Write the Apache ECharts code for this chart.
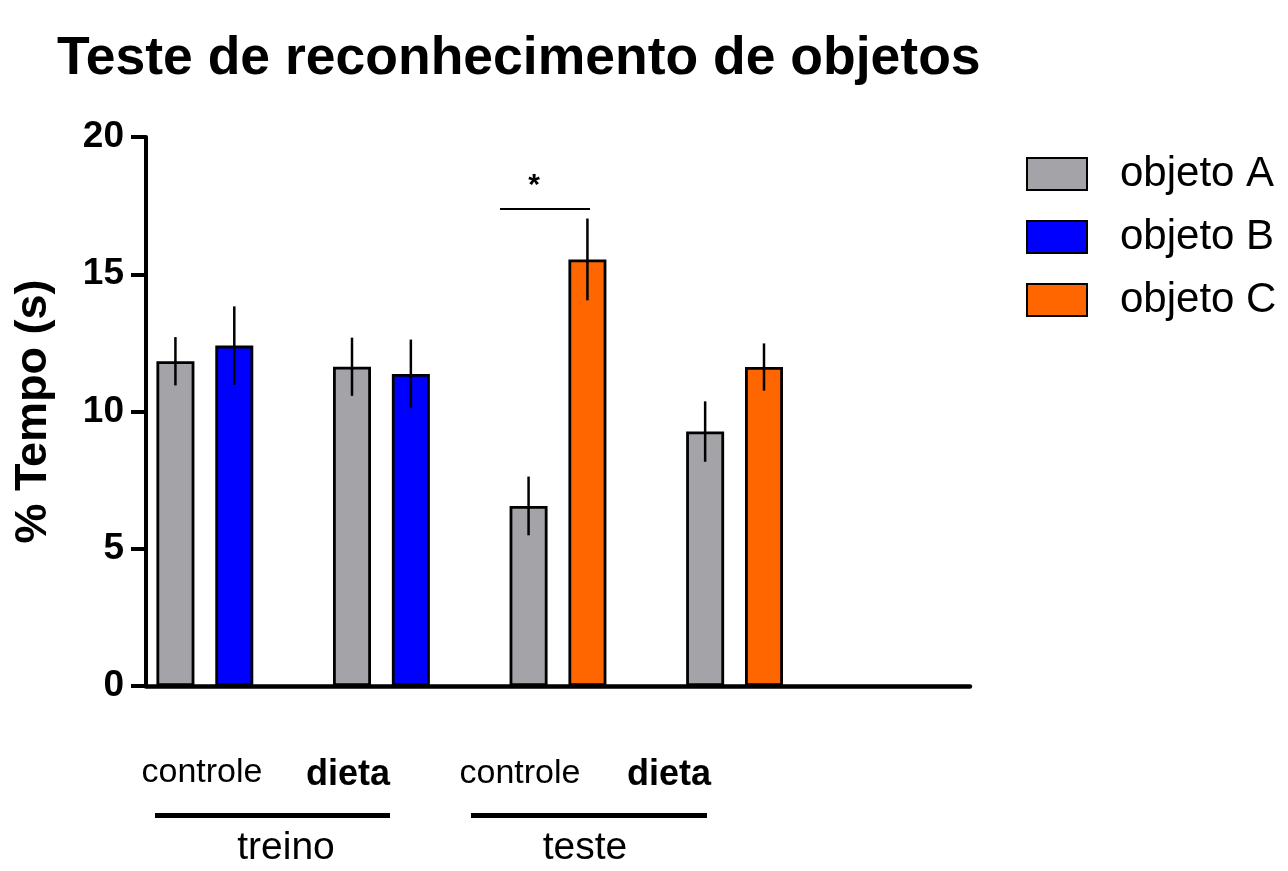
<!DOCTYPE html>
<html>
<head>
<meta charset="utf-8">
<script src="https://cdn.jsdelivr.net/npm/echarts@6/dist/echarts.min.js"></script>
<style>html,body{margin:0;padding:0;background:#fff}#c{width:1288px;height:871px}</style>
</head>
<body>
<div id="c"></div>
<script>
// 14 slots along the x axis; empty slots separate the pairs
var slots = ['', '', '', '', '', '', '', '', '', '', '', '', '', ''];
var seriesNames = ['objeto A', 'objeto B', 'objeto C'];
var valuesA = [11.83, null, null, 11.63, null, null, 6.56, null, null, 9.27, null, null, null, null];
var valuesB = [null, 12.40, null, null, 11.37, null, null, null, null, null, null, null, null, null];
var valuesC = [null, null, null, null, null, null, null, 15.54, null, null, 11.62, null, null, null];
var errA = [0.88, null, null, 1.06, null, null, 1.07, null, null, 1.10, null, null, null, null];
var errB = [null, 1.43, null, null, 1.25, null, null, null, null, null, null, null, null, null];
var errC = [null, null, null, null, null, null, null, 1.49, null, null, 0.86, null, null, null];
var yTicks = [0, 5, 10, 15, 20];

var colors = ['#a3a3a8', '#0000ff', '#ff6600'];
var FONT = 'Liberation Sans, Arial, Helvetica, sans-serif';

function errData(vals, errs) {
  var out = [];
  for (var i = 0; i < vals.length; i++) {
    if (vals[i] != null && errs[i] != null) out.push([i, vals[i] - errs[i], vals[i] + errs[i]]);
  }
  return out;
}
var errAll = errData(valuesA, errA).concat(errData(valuesB, errB), errData(valuesC, errC));

var chart = echarts.init(document.getElementById('c'));
var barStyle = function (c) {
  return { color: c, borderColor: '#000', borderWidth: 2.8 };
};
chart.setOption({
  animation: false,
  backgroundColor: '#fff',
  title: {
    text: 'Teste de reconhecimento de objetos',
    left: 52, top: 27,
    textStyle: { fontFamily: FONT, fontSize: 53.5, fontWeight: 'bold', color: '#000' }
  },
  legend: {
    orient: 'vertical',
    left: 1026, top: 153, padding: 0,
    itemWidth: 60, itemHeight: 32, itemGap: 21,
    icon: 'rect',
    data: seriesNames,
    textStyle: { fontFamily: FONT, fontSize: 42, color: '#000', padding: [0, 0, 0, 28] }
  },
  grid: { left: 146, right: 318, top: 137, bottom: 185, containLabel: false },
  xAxis: {
    type: 'category',
    data: slots,
    axisLine: { lineStyle: { color: '#000', width: 4.5 } },
    axisTick: { show: false },
    axisLabel: { show: false }
  },
  yAxis: {
    type: 'value',
    min: 0, max: 20, interval: 5,
    name: '% Tempo (s)',
    nameLocation: 'middle',
    nameGap: 90,
    nameTextStyle: { fontFamily: FONT, fontSize: 45, fontWeight: 'bold', color: '#000' },
    axisLine: { show: true, lineStyle: { color: '#000', width: 4 } },
    axisTick: { show: true, inside: false, length: 15, lineStyle: { color: '#000', width: 4 } },
    axisLabel: {
      margin: 22, fontFamily: FONT, fontSize: 37, fontWeight: 'bold', color: '#000',
      formatter: function (v) { return yTicks.indexOf(v) >= 0 ? String(v) : ''; }
    },
    splitLine: { show: false }
  },
  series: [
    { name: seriesNames[0], type: 'bar', stack: 's', barWidth: 38, data: valuesA, itemStyle: barStyle(colors[0]) },
    { name: seriesNames[1], type: 'bar', stack: 's', barWidth: 38, data: valuesB, itemStyle: barStyle(colors[1]) },
    { name: seriesNames[2], type: 'bar', stack: 's', barWidth: 38, data: valuesC, itemStyle: barStyle(colors[2]) },
    {
      type: 'custom', z: 10, silent: true,
      data: errAll,
      renderItem: function (params, api) {
        var p1 = api.coord([api.value(0), api.value(1)]);
        var p2 = api.coord([api.value(0), api.value(2)]);
        return {
          type: 'line',
          shape: { x1: p1[0], y1: p1[1], x2: p2[0], y2: p2[1] },
          style: { stroke: '#000', lineWidth: 2.5 }
        };
      }
    }
  ],
  graphic: [
    { type: 'line', shape: { x1: 500, y1: 209, x2: 590, y2: 209 }, style: { stroke: '#000', lineWidth: 2 } },
    { type: 'text', x: 534, y: 186, style: { text: '*', font: 'bold 30px ' + FONT, fill: '#000', textAlign: 'center', textVerticalAlign: 'middle' } },
    { type: 'text', x: 202, y: 773, style: { text: 'controle', font: '34px ' + FONT, fill: '#000', textAlign: 'center', textVerticalAlign: 'middle' } },
    { type: 'text', x: 348, y: 775, style: { text: 'dieta', font: 'bold 36px ' + FONT, fill: '#000', textAlign: 'center', textVerticalAlign: 'middle' } },
    { type: 'text', x: 520, y: 774, style: { text: 'controle', font: '34px ' + FONT, fill: '#000', textAlign: 'center', textVerticalAlign: 'middle' } },
    { type: 'text', x: 669, y: 775, style: { text: 'dieta', font: 'bold 36px ' + FONT, fill: '#000', textAlign: 'center', textVerticalAlign: 'middle' } },
    { type: 'line', shape: { x1: 155, y1: 815.5, x2: 390, y2: 815.5 }, style: { stroke: '#000', lineWidth: 5 } },
    { type: 'line', shape: { x1: 471, y1: 815.5, x2: 707, y2: 815.5 }, style: { stroke: '#000', lineWidth: 5 } },
    { type: 'text', x: 286, y: 848, style: { text: 'treino', font: '39px ' + FONT, fill: '#000', textAlign: 'center', textVerticalAlign: 'middle' } },
    { type: 'text', x: 585, y: 848, style: { text: 'teste', font: '39px ' + FONT, fill: '#000', textAlign: 'center', textVerticalAlign: 'middle' } }
  ]
});
</script>
</body>
</html>
